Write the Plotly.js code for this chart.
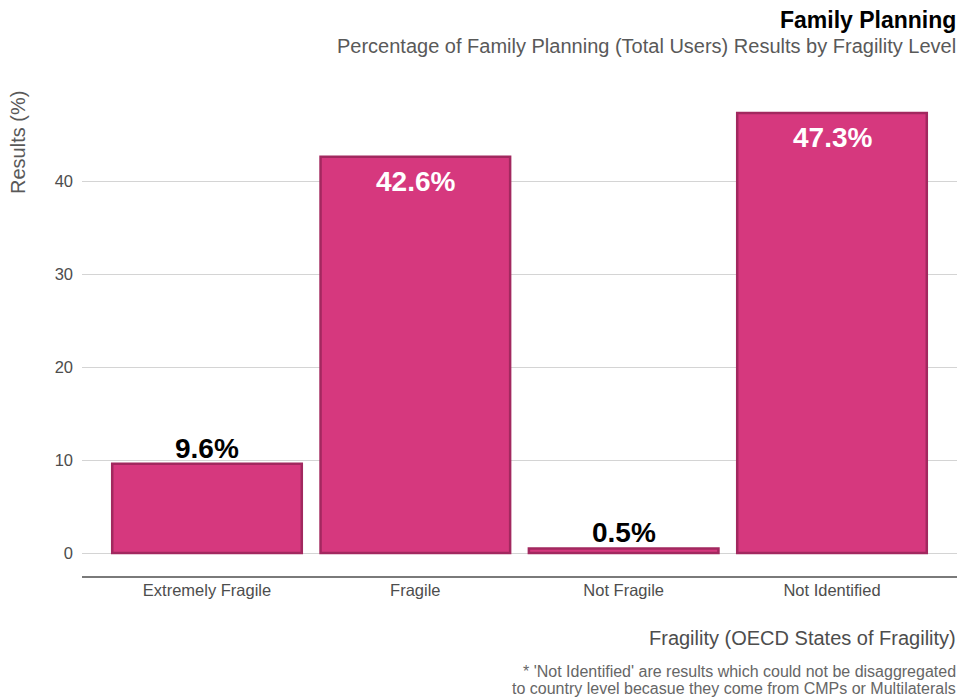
<!DOCTYPE html>
<html>
<head>
<meta charset="utf-8">
<script src="https://cdn.plot.ly/plotly-3.0.1.min.js"></script>
<style>html,body{margin:0;padding:0;background:#fff;}#chart{width:962px;height:698px;}</style>
</head>
<body>
<div id="chart"></div>
<script>
const categories = ["Extremely Fragile", "Fragile", "Not Fragile", "Not Identified"];
const results = [9.6, 42.6, 0.5, 47.3];
const yTicks = [0, 10, 20, 30, 40];
const labelInside = [false, true, false, true];

const FONT = "Liberation Sans, Arial, sans-serif";

const trace = {
  type: "bar",
  x: categories,
  y: results,
  width: 0.91,
  marker: { color: "#D6387E", line: { color: "#A2285F", width: 2.5 } },
  hoverinfo: "x+y"
};

const labelAnns = categories.map((c, i) => ({
  x: c, y: results[i], xref: "x", yref: "y",
  text: "<b>" + results[i].toFixed(1) + "%</b>",
  showarrow: false,
  yanchor: labelInside[i] ? "top" : "bottom",
  yshift: labelInside[i] ? -7 : -2,
  font: { family: FONT, size: 28, color: labelInside[i] ? "#ffffff" : "#000000" }
}));

const textAnns = [
  { text: "<b>Family Planning</b>", x: 957, y: 20, font: { size: 23, color: "#000" } },
  { text: "Percentage of Family Planning (Total Users) Results by Fragility Level", x: 957, y: 46, font: { size: 20, color: "#595959" } },
  { text: "Fragility (OECD States of Fragility)", x: 957, y: 638, font: { size: 20, color: "#4d4d4d" } },
  { text: "* 'Not Identified' are results which could not be disaggregated", x: 957, y: 671, font: { size: 16, color: "#666666" } },
  { text: "to country level becasue they come from CMPs or Multilaterals", x: 957, y: 688, font: { size: 16, color: "#666666" } }
].map(a => ({
  text: a.text, xref: "paper", yref: "paper",
  x: 1, y: 1 - (a.y - 88) / (576 - 88),
  xanchor: "right", yanchor: "middle", showarrow: false, borderpad: 0,
  font: Object.assign({ family: FONT }, a.font)
}));

const yTitle = {
  text: "Results (%)", xref: "paper", yref: "paper",
  x: -(82 - 18) / 875, y: 1 - (143 - 88) / (576 - 88),
  xanchor: "center", yanchor: "middle", textangle: -90, showarrow: false,
  font: { family: FONT, size: 20, color: "#595959" }
};

const layout = {
  width: 962, height: 698,
  margin: { l: 82, r: 5, t: 88, b: 122 },
  paper_bgcolor: "#fff", plot_bgcolor: "#fff",
  font: { family: FONT, color: "#4d4d4d" },
  showlegend: false,
  xaxis: {
    range: [-0.6, 3.6],
    showgrid: false, zeroline: false,
    showline: true, linecolor: "#7a7a7a", linewidth: 2,
    ticks: "", ticklabelstandoff: -2,
    tickfont: { family: FONT, size: 16.5, color: "#4d4d4d" }
  },
  yaxis: {
    range: [-2.47, 50],
    tickvals: yTicks,
    ticktext: yTicks.map(String),
    showgrid: true, gridcolor: "#d4d4d4", gridwidth: 1,
    zeroline: false, showline: false,
    ticks: "", ticklabelstandoff: 8,
    tickfont: { family: FONT, size: 16.5, color: "#4d4d4d" }
  },
  annotations: labelAnns.concat(textAnns, [yTitle])
};

Plotly.newPlot("chart", [trace], layout, { displayModeBar: false, staticPlot: true });
</script>
</body>
</html>
